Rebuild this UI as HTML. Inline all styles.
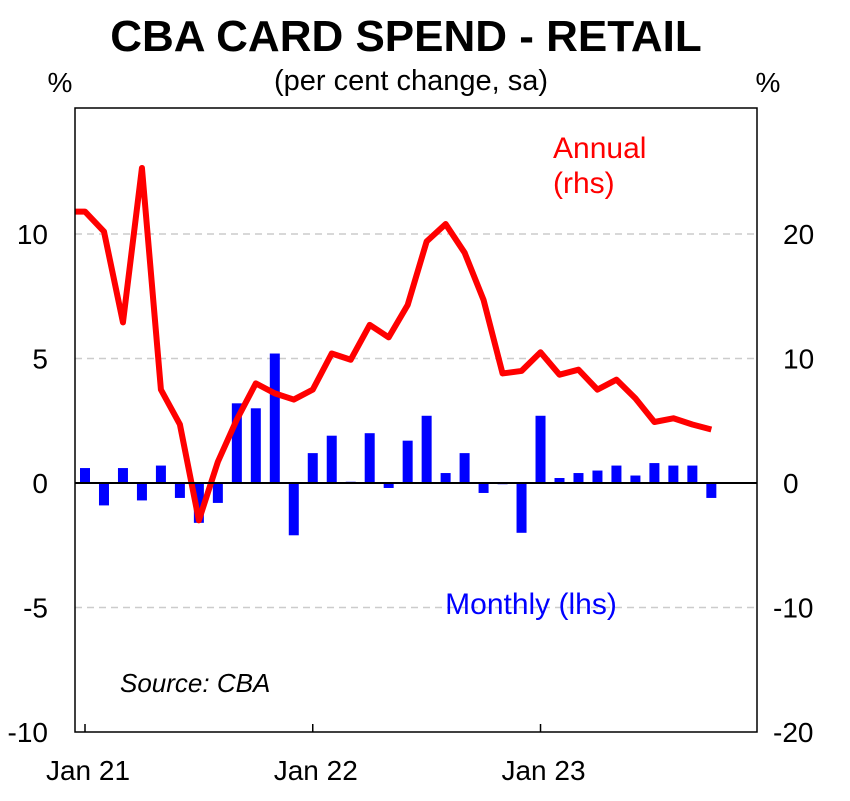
<!DOCTYPE html>
<html><head><meta charset="utf-8"><style>
body{margin:0;background:#fff;}
svg text{font-family:"Liberation Sans",Arial,sans-serif;}
</style></head><body>
<svg id="chart" width="850" height="796" xmlns="http://www.w3.org/2000/svg">
<text x="406" y="51" font-size="44" font-weight="bold" text-anchor="middle">CBA CARD SPEND - RETAIL</text>
<text x="411" y="90" font-size="29" text-anchor="middle">(per cent change, sa)</text>
<text x="60" y="92" font-size="28" text-anchor="middle">%</text>
<text x="768" y="92" font-size="28" text-anchor="middle">%</text>
<g id="grid"></g><g id="bars"></g><g id="line"></g><g id="axes"></g>
<text x="553" y="158" font-size="30" fill="#f00">Annual</text>
<text x="553" y="193" font-size="30" fill="#f00">(rhs)</text>
<text x="531" y="614" font-size="30" fill="#00f" text-anchor="middle">Monthly (lhs)</text>
<text x="120" y="692" font-size="26" font-style="italic">Source: CBA</text>
</svg>
<script>
const monthly=[0.6,-0.9,0.6,-0.7,0.7,-0.6,-1.6,-0.8,3.2,3.0,5.2,-2.1,1.2,1.9,0.05,2.0,-0.2,1.7,2.7,0.4,1.2,-0.4,-0.05,-2.0,2.7,0.2,0.4,0.5,0.7,0.3,0.8,0.7,0.7,-0.6];
const annual=[21.8,20.2,12.9,25.3,7.5,4.7,-3.0,1.7,5.1,8.0,7.2,6.7,7.5,10.4,9.9,12.7,11.7,14.3,19.4,20.8,18.5,14.7,8.8,9.0,10.5,8.7,9.1,7.5,8.3,6.8,4.9,5.2,4.7,4.3];
const leftTicks=[-10,-5,0,5,10];
const rightTicks=[-20,-10,0,10,20];
const xLabels=["Jan 21","Jan 22","Jan 23"];
const xLabelIdx=[0,12,24];
const L=75,R=757,T=108,B=732;
const yl=v=>483-v*24.9;
const yr=v=>483-v*12.45;
const xm=i=>85+i*18.98;
const ns="http://www.w3.org/2000/svg";
function mk(p,t,a){const e=document.createElementNS(ns,t);for(const k in a)e.setAttribute(k,a[k]);document.getElementById(p).appendChild(e);return e;}
leftTicks.forEach((v,i)=>{
 if(v!==0&&v!==-10){const g=mk('grid','line',{x1:L,x2:R,y1:yl(v),y2:yl(v),stroke:'#ccc','stroke-width':1.5,'stroke-dasharray':'7,5'});
 
 }
 const t=mk('axes','text',{x:48,y:yl(v)+10,'font-size':28,'text-anchor':'end'});t.textContent=v;
 
 
});
rightTicks.forEach(v=>{
 const t=mk('axes','text',{x:v<0?773:783,y:yr(v)+10,'font-size':28,'text-anchor':'start'});t.textContent=v;
 
 
});
monthly.forEach((v,i)=>{
 const y=Math.min(yl(v),yl(0)),h=Math.max(Math.abs(yl(v)-yl(0)),1);
 const b=mk('bars','rect',{x:xm(i)-5,y:y,width:10,height:h,fill:'#00f'});
 
 
});
let d='M'+L+','+yr(annual[0]);
annual.forEach((v,i)=>{d+=' L'+xm(i)+','+yr(v);});
const p=mk('line','path',{d:d,fill:'none',stroke:'#f00','stroke-width':6,'stroke-linejoin':'round'});


const z=mk('axes','line',{x1:L,x2:R,y1:yl(0),y2:yl(0),stroke:'#000','stroke-width':2});


const fr=mk('axes','rect',{x:L,y:T,width:R-L,height:B-T,fill:'none',stroke:'#000','stroke-width':1.5});


xLabels.forEach((s,i)=>{
 const x=xm(xLabelIdx[i]);
 const tk=mk('axes','line',{x1:x,x2:x,y1:B,y2:B-8,stroke:'#000','stroke-width':1.5});
 
 
 const t=mk('axes','text',{x:x+3,y:780,'font-size':28,'text-anchor':'middle'});t.textContent=s;
 
 
});
</script>
</body></html>
